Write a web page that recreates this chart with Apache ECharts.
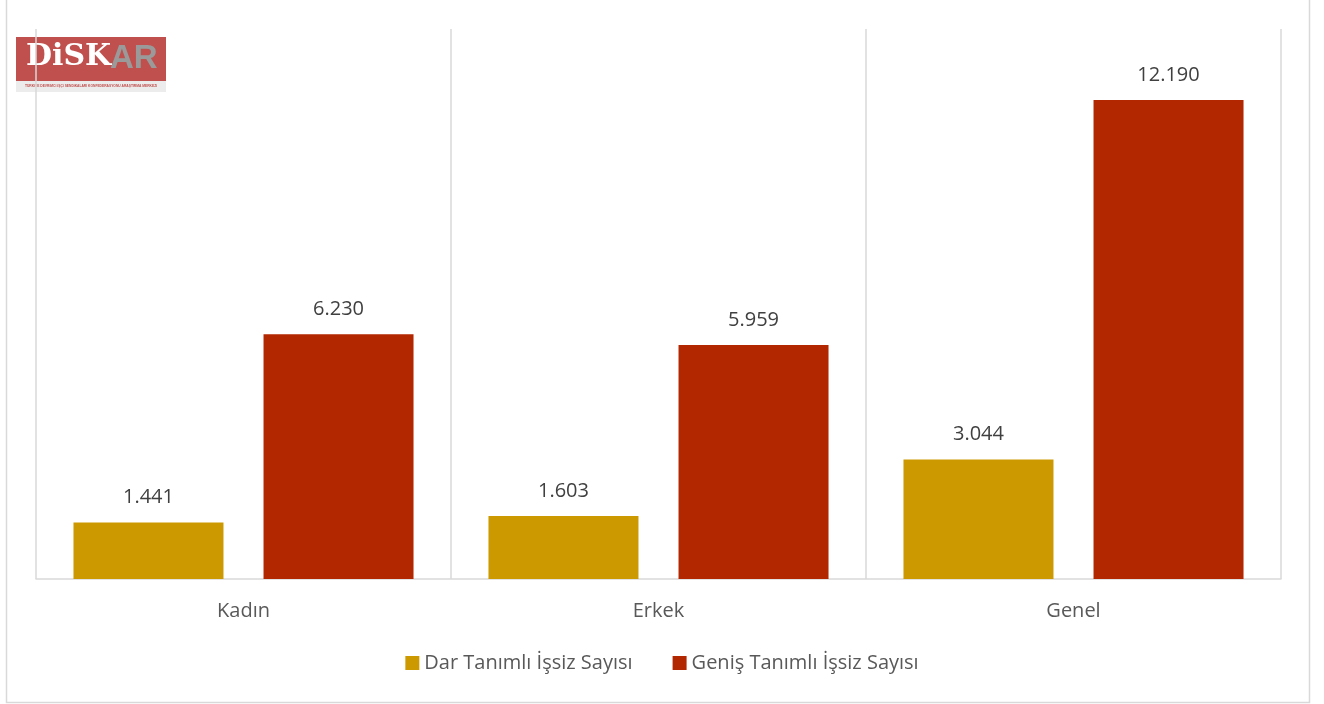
<!DOCTYPE html>
<html><head><meta charset="utf-8">
<script src="https://cdn.jsdelivr.net/npm/echarts@6/dist/echarts.min.js"></script>
<style>html,body{margin:0;padding:0;background:#fff}#c{width:1324px;height:704px}</style>
</head><body><div id="c"></div>
<script>
const categories = ['Kadın', 'Erkek', 'Genel'];
const seriesNames = ['Dar Tanımlı İşsiz Sayısı', 'Geniş Tanımlı İşsiz Sayısı'];
const darValues = [1441, 1603, 3044];
const genisValues = [6230, 5959, 12190];
const colors = ['#CC9900', '#B22600'];
const FONT = '"Open Sans", "Noto Sans", sans-serif';
function fmt(v){ return String(v).replace(/\B(?=(\d{3})+(?!\d))/g, '.'); }
const chart = echarts.init(document.getElementById('c'));
const label = {show:true, position:'top', distance:15, color:'#404040', fontSize:20, fontFamily:FONT, formatter:p=>fmt(p.value)};
chart.setOption({
  animation:false,
  grid:{left:36, right:43, top:29, bottom:125},
  legend:{bottom:26, left:'center', itemWidth:14, itemHeight:14, itemGap:40, icon:'rect',
    textStyle:{color:'#595959', fontSize:20, fontFamily:FONT}},
  xAxis:{type:'category', data:categories,
    axisLine:{lineStyle:{color:'#d9d9d9', width:1.5}},
    axisTick:{show:false},
    splitLine:{show:true, lineStyle:{color:'#d9d9d9', width:1.5}},
    axisLabel:{color:'#595959', fontSize:20, fontFamily:FONT, margin:22}},
  yAxis:{type:'value', min:0, max:14000, show:false, splitLine:{show:false}},
  series:[
    {name:seriesNames[0], type:'bar', data:darValues, barWidth:150, barGap:'26.7%', itemStyle:{color:colors[0]}, label:label},
    {name:seriesNames[1], type:'bar', data:genisValues, barWidth:150, itemStyle:{color:colors[1]}, label:label}
  ],
  graphic:[
    {type:'rect', shape:{x:6.5, y:-1, width:1303, height:703.5}, style:{fill:'none', stroke:'#d9d9d9', lineWidth:1.5}, silent:true},
    {type:'rect', shape:{x:16, y:37, width:150, height:44}, style:{fill:'#C0504D'}},
    {type:'rect', shape:{x:16, y:81, width:150, height:11}, style:{fill:'#ececec'}},
    {type:'text', x:26, y:42, style:{text:'DiSK', fill:'#ffffff', font:'bold 30px "DejaVu Serif", serif'}},
    {type:'text', x:110, y:42, style:{text:'AR', fill:'#9a9a9a', font:'bold 33px "Liberation Sans", sans-serif'}},
    {type:'text', x:91, y:86.5, style:{text:'TÜRKİYE DEVRİMCİ İŞÇİ SENDİKALARI KONFEDERASYONU ARAŞTIRMA MERKEZİ', fill:'#C0504D', font:'bold 3.3px "Liberation Sans", sans-serif', align:'center', verticalAlign:'middle'}}
  ]
});
</script></body></html>
